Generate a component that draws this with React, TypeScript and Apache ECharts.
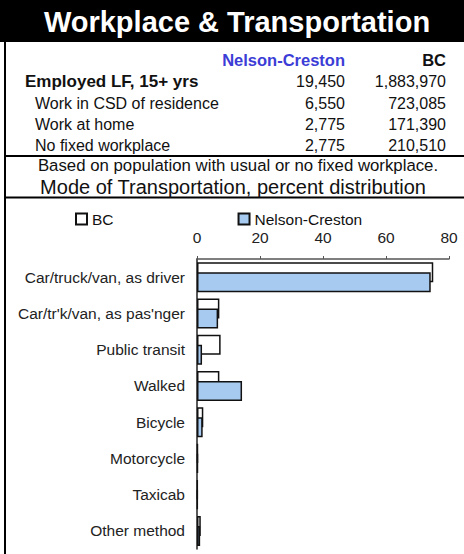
import React, { useEffect, useRef } from "react";
import * as echarts from "echarts";

const FONT = '"Liberation Sans", Arial, Helvetica, sans-serif';

const titleText = "Workplace & Transportation";
const tableHeaders = ["Nelson-Creston", "BC"];
const tableRows = ["Employed LF, 15+ yrs", "Work in CSD of residence", "Work at home", "No fixed workplace"];
const ncCounts = ["19,450", "6,550", "2,775", "2,775"];
const bcCounts = ["1,883,970", "723,085", "171,390", "210,510"];
const noteText = "Based on population with usual or no fixed workplace.";
const chartTitle = "Mode of Transportation, percent distribution";

const categories = [
  "Car/truck/van, as driver",
  "Car/tr'k/van, as pas'nger",
  "Public transit",
  "Walked",
  "Bicycle",
  "Motorcycle",
  "Taxicab",
  "Other method",
];
const bcValues = [75.0, 7.1, 7.5, 7.1, 2.0, 0.3, 0.2, 1.2];
const ncValues = [74.2, 6.7, 1.6, 14.3, 1.8, 0.3, 0.2, 1.0];
const axisTicks = { min: 0, max: 80, interval: 20 };

export default function App() {
  const ref = useRef<HTMLDivElement>(null);
  useEffect(() => {
    if (!ref.current) return;
    const chart = echarts.init(ref.current, undefined, { renderer: "svg" });
    const rowY = [81, 103, 124, 145];
    const graphics: any[] = [
      { type: "rect", shape: { x: 0, y: 0, width: 464, height: 42 }, style: { fill: "#000" } },
      {
        type: "text",
        x: 237,
        y: 22,
        style: {
          text: titleText,
          fill: "#fff",
          font: `bold 29px ${FONT}`,
          textAlign: "center",
          textVerticalAlign: "middle",
        },
      },
      { type: "line", shape: { x1: 5, y1: 42, x2: 5, y2: 554 }, style: { stroke: "#000", lineWidth: 2 } },
      { type: "line", shape: { x1: 5, y1: 156, x2: 464, y2: 156 }, style: { stroke: "#000", lineWidth: 2 } },
      { type: "line", shape: { x1: 5, y1: 197.5, x2: 464, y2: 197.5 }, style: { stroke: "#000", lineWidth: 2 } },
      {
        type: "text",
        x: 345,
        y: 60,
        style: { text: tableHeaders[0], fill: "#3c3cd6", font: `bold 16.5px ${FONT}`, textAlign: "right", textVerticalAlign: "middle" },
      },
      {
        type: "text",
        x: 446,
        y: 60,
        style: { text: tableHeaders[1], fill: "#111", font: `bold 16.5px ${FONT}`, textAlign: "right", textVerticalAlign: "middle" },
      },
      {
        type: "text",
        x: 238,
        y: 165.5,
        style: { text: noteText, fill: "#111", font: `16.8px ${FONT}`, textAlign: "center", textVerticalAlign: "middle" },
      },
      {
        type: "text",
        x: 233,
        y: 186.5,
        style: { text: chartTitle, fill: "#111", font: `20px ${FONT}`, textAlign: "center", textVerticalAlign: "middle" },
      },
    ];
    tableRows.forEach((r, i) => {
      graphics.push({
        type: "text",
        x: i === 0 ? 25 : 35,
        y: rowY[i],
        style: {
          text: r,
          fill: "#111",
          font: `${i === 0 ? "bold 17px" : "16px"} ${FONT}`,
          textAlign: "left",
          textVerticalAlign: "middle",
        },
      });
      graphics.push({
        type: "text",
        x: 345,
        y: rowY[i],
        style: { text: ncCounts[i], fill: "#111", font: `16px ${FONT}`, textAlign: "right", textVerticalAlign: "middle" },
      });
      graphics.push({
        type: "text",
        x: 446,
        y: rowY[i],
        style: { text: bcCounts[i], fill: "#111", font: `16px ${FONT}`, textAlign: "right", textVerticalAlign: "middle" },
      });
    });

    chart.setOption({
      animation: false,
      graphic: graphics,
      legend: {
        data: ["BC", "Nelson-Creston"],
        left: 75,
        top: 211,
        padding: 0,
        icon: "rect",
        itemWidth: 11,
        itemHeight: 11,
        itemGap: 124,
        textStyle: { fontFamily: FONT, fontSize: 15.5, color: "#111" },
      },
      grid: { left: 197, right: 15, top: 259, bottom: 5, containLabel: false },
      xAxis: {
        type: "value",
        position: "top",
        min: axisTicks.min,
        max: axisTicks.max,
        interval: axisTicks.interval,
        axisLine: { show: true, lineStyle: { color: "#555", width: 1.5 } },
        axisTick: { show: true, length: 3, lineStyle: { color: "#555" } },
        axisLabel: { fontFamily: FONT, fontSize: 15.5, color: "#222", margin: 14 },
        splitLine: { show: false },
      },
      yAxis: {
        type: "category",
        inverse: true,
        data: categories,
        axisLine: { show: true, lineStyle: { color: "#222", width: 1.5 } },
        axisTick: { show: false },
        axisLabel: { fontFamily: FONT, fontSize: 15.5, color: "#222", margin: 12 },
      },
      series: [
        {
          name: "BC",
          type: "bar",
          data: bcValues,
          barWidth: 20,
          barGap: "-50%",
          itemStyle: { color: "#ffffff", borderColor: "#111", borderWidth: 1.5 },
        },
        {
          name: "Nelson-Creston",
          type: "bar",
          data: ncValues,
          barWidth: 20,
          barGap: "-50%",
          itemStyle: { color: "#a6caf0", borderColor: "#111", borderWidth: 1.5 },
        },
      ],
    });
    return () => chart.dispose();
  }, []);
  return (
    <div
      ref={ref}
      style={{ position: "absolute", left: 0, top: 0, width: 464, height: 554, background: "#fff" }}
    />
  );
}
